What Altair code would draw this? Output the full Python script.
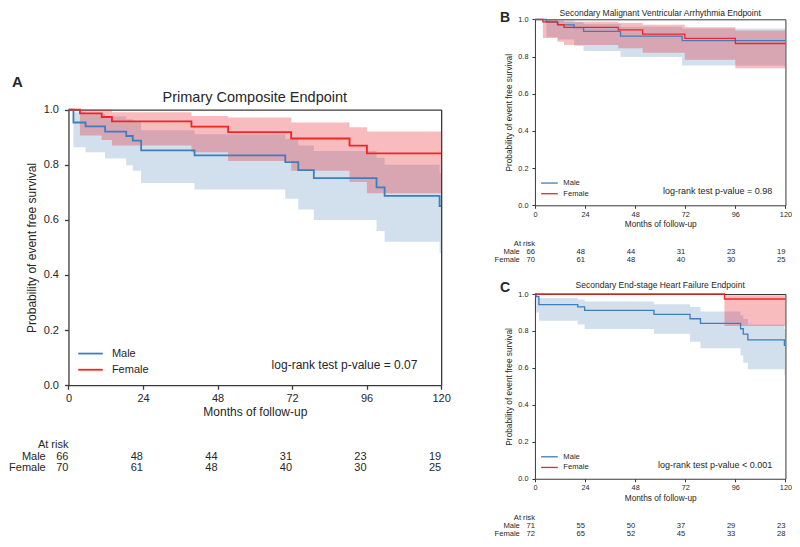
import altair as alt
import pandas as pd

# ---------------- data ----------------
months = [0, 24, 48, 72, 96, 120]
y_ticks = [0.0, 0.2, 0.4, 0.6, 0.8, 1.0]

# Panel A - Primary Composite Endpoint
A_male_t = [0, 1.6, 5.5, 11.8, 18.6, 20.7, 23.4, 40.6, 69.8, 74.0, 79.0, 99.2, 101.8, 119.5, 120]
A_male_s = [1.0, 0.953, 0.939, 0.920, 0.904, 0.887, 0.852, 0.834, 0.809, 0.780, 0.751, 0.718, 0.687, 0.650, 0.650]
A_male_lo = [1.0, 0.863, 0.845, 0.822, 0.798, 0.778, 0.734, 0.710, 0.676, 0.637, 0.599, 0.559, 0.520, 0.480, 0.480]
A_male_hi = [1.0, 0.990, 0.985, 0.975, 0.965, 0.955, 0.925, 0.910, 0.893, 0.870, 0.850, 0.825, 0.800, 0.770, 0.770]
A_fem_t = [0, 3.7, 10.7, 14.0, 39.6, 51.4, 71.7, 90.5, 96.1, 120]
A_fem_s = [1.0, 0.986, 0.973, 0.957, 0.938, 0.918, 0.895, 0.869, 0.841, 0.841]
A_fem_lo = [1.0, 0.906, 0.890, 0.870, 0.845, 0.813, 0.778, 0.737, 0.696, 0.696]
A_fem_hi = [1.0, 1.0, 1.0, 0.990, 0.977, 0.971, 0.953, 0.936, 0.920, 0.920]
A_risk_male = [66, 48, 44, 31, 23, 19]
A_risk_female = [70, 61, 48, 40, 30, 25]

# Panel B - Secondary Malignant Ventricular Arrhythmia Endpoint
B_male_t = [0, 5.5, 11.0, 18.8, 23.3, 41.0, 70.5, 120]
B_male_s = [1.0, 0.985, 0.970, 0.955, 0.935, 0.910, 0.885, 0.885]
B_male_lo = [1.0, 0.905, 0.891, 0.856, 0.830, 0.797, 0.752, 0.752]
B_male_hi = [1.0, 1.0, 0.993, 0.985, 0.975, 0.960, 0.950, 0.950]
B_fem_t = [0, 3.8, 10.8, 13.9, 39.9, 51.6, 71.8, 96.0, 120]
B_fem_s = [1.0, 0.986, 0.971, 0.957, 0.943, 0.920, 0.897, 0.870, 0.870]
B_fem_lo = [1.0, 0.900, 0.880, 0.862, 0.845, 0.820, 0.782, 0.737, 0.737]
B_fem_hi = [1.0, 0.998, 0.993, 0.987, 0.980, 0.971, 0.957, 0.940, 0.940]
B_risk_male = [66, 48, 44, 31, 23, 19]
B_risk_female = [70, 61, 48, 40, 30, 25]

# Panel C - Secondary End-stage Heart Failure Endpoint
C_male_t = [0, 0.6, 1.9, 20.5, 23.8, 57.0, 74.3, 79.3, 98.5, 99.8, 102.0, 119.5, 120]
C_male_s = [1.0, 0.986, 0.943, 0.930, 0.911, 0.890, 0.866, 0.841, 0.812, 0.783, 0.752, 0.722, 0.722]
C_male_lo = [1.0, 0.900, 0.855, 0.835, 0.810, 0.785, 0.742, 0.707, 0.667, 0.628, 0.593, 0.559, 0.559]
C_male_hi = [1.0, 0.998, 0.978, 0.970, 0.960, 0.945, 0.930, 0.905, 0.885, 0.865, 0.835, 0.810, 0.810]
C_fem_t = [0, 90.8, 120]
C_fem_s = [1.0, 0.973, 0.973]
C_fem_lo = [1.0, 0.827, 0.827]
C_fem_hi = [1.0, 0.993, 0.993]
C_risk_male = [71, 55, 50, 37, 29, 23]
C_risk_female = [72, 65, 52, 45, 33, 28]

# ---------------- layout helpers ----------------
W, H = 784, 531
SX, SY = 0.98, 531 / 549


def X(r):
    return r * SX


def Y(r):
    return r * SY


FONT = "Liberation Sans"
TXT = "#262626"
FRAME = "#3a3a3a"
BLUE = "#3d7ebf"
RED = "#f22424"
BAND_BLUE = "#4682b4"
BAND_RED = "#e8222a"

one = pd.DataFrame({"k": [0]})


def km_frame(t, s, lo, hi):
    return pd.DataFrame({"t": t, "s": s, "lo": lo, "hi": hi})


def label(text, x, y, size, align="left", weight="normal"):
    return alt.Chart(one).mark_text(
        text=text, align=align, baseline="middle", fontSize=size,
        font=FONT, color=TXT, fontWeight=weight,
    ).encode(x=alt.value(x), y=alt.value(y))


def legend_rule(color, x0, x1, y, sw):
    return alt.Chart(one).mark_rule(color=color, strokeWidth=sw).encode(
        x=alt.value(x0), x2=alt.value(x1), y=alt.value(y))


def panel(g, male, female, risk_m, risk_f, st):
    x0, x1, yb, yt = g["x0"], g["x1"], g["yb"], g["yt"]

    def xs():
        return alt.Scale(domain=[0, 120], range=[x0, x1], nice=False, zero=False)

    def ys():
        return alt.Scale(domain=[0, 1], range=[yb, yt], nice=False, zero=False)

    common = dict(domainColor=FRAME, domainWidth=st["dw"], tickColor=FRAME,
                  tickWidth=st["dw"], labelColor=TXT, titleColor=TXT,
                  labelFont=FONT, titleFont=FONT, grid=False,
                  titleFontWeight="normal")
    x_axis = alt.Axis(orient="bottom", offset=-(H - yb), values=months, format="d",
                      title="Months of follow-up", tickSize=st["ts"],
                      labelPadding=st["lp"], titlePadding=st["tpx"],
                      labelFontSize=st["tick"], titleFontSize=st["axt"],
                      labelFlush=False, **common)
    y_axis = alt.Axis(orient="left", offset=-x0, values=y_ticks, format=".1f",
                      title="Probability of event free survival", tickSize=st["ts"],
                      labelPadding=st["lpy"], titlePadding=st["tpy"],
                      labelFontSize=st["tick"], titleFontSize=st["axt"],
                      labelFlush=False, **common)
    top_axis = alt.Axis(orient="top", offset=-yt, labels=False, ticks=False,
                        domainColor=FRAME, domainWidth=st["dw"], grid=False)
    right_axis = alt.Axis(orient="right", offset=-(W - x1), labels=False, ticks=False,
                          domainColor=FRAME, domainWidth=st["dw"], grid=False)

    mdf = km_frame(*male)
    fdf = km_frame(*female)
    layers = []
    layers.append(alt.Chart(mdf).mark_area(interpolate="step-after", color=BAND_BLUE, opacity=0.25).encode(
        x=alt.X("t:Q", scale=xs(), axis=x_axis),
        y=alt.Y("lo:Q", scale=ys(), axis=y_axis),
        y2="hi:Q"))
    layers.append(alt.Chart(fdf).mark_area(interpolate="step-after", color=BAND_RED, opacity=0.3).encode(
        x=alt.X("t:Q", scale=xs(), axis=top_axis, title=None),
        y=alt.Y("lo:Q", scale=ys(), axis=right_axis, title=None),
        y2="hi:Q"))
    layers.append(alt.Chart(mdf).mark_line(interpolate="step-after", color=BLUE, strokeWidth=st["lw"]).encode(
        x=alt.X("t:Q", scale=xs(), axis=None),
        y=alt.Y("s:Q", scale=ys(), axis=None)))
    layers.append(alt.Chart(fdf).mark_line(interpolate="step-after", color=RED, strokeWidth=st["lw"]).encode(
        x=alt.X("t:Q", scale=xs(), axis=None),
        y=alt.Y("s:Q", scale=ys(), axis=None)))

    # number at risk tables
    for vals, yy in ((risk_m, g["r_male"]), (risk_f, g["r_fem"])):
        rdf = pd.DataFrame({"m": months, "n": vals})
        layers.append(alt.Chart(rdf).mark_text(
            align="right", baseline="middle", fontSize=st["risk"], font=FONT, color=TXT
        ).encode(x=alt.X("m:Q", scale=xs(), axis=None), y=alt.value(yy), text="n:Q"))
    layers.append(label("At risk", x0, g["r_head"], st["risk"], align="right"))
    layers.append(label("Male", g["r_lab"], g["r_male"], st["risk"], align="right"))
    layers.append(label("Female", g["r_lab"], g["r_fem"], st["risk"], align="right"))

    # legend inside the plot
    layers.append(legend_rule(BLUE, g["lg_x0"], g["lg_x1"], g["lg_m"], st["lw"]))
    layers.append(legend_rule(RED, g["lg_x0"], g["lg_x1"], g["lg_f"], st["lw"]))
    layers.append(label("Male", g["lg_tx"], g["lg_m"], st["leg"]))
    layers.append(label("Female", g["lg_tx"], g["lg_f"], st["leg"]))

    # p-value, title, panel letter
    layers.append(label(g["pval"], g["p_x"], g["p_y"], st["pv"]))
    layers.append(label(g["title"], (x0 + x1) / 2, g["t_y"], st["title"], align="center"))
    layers.append(label(g["letter"], g["l_x"], g["l_y"], st["letter"], weight="bold"))
    return layers


big = dict(dw=1.3, ts=4, lp=3, lpy=6, tpx=3, tpy=5, tick=11, axt=12, lw=1.8,
           risk=11, leg=11, pv=12, title=14.5, letter=15)
small = dict(dw=1.0, ts=3, lp=2, lpy=4, tpx=2, tpy=4, tick=7.3, axt=8.3, lw=1.3,
             risk=7.6, leg=7.6, pv=9, title=8.5, letter=14)

gA = dict(x0=X(61.7), x1=X(442), yb=Y(390), yt=Y(105),
          r_head=Y(451.7), r_male=Y(464), r_fem=Y(476), r_lab=X(38.5),
          lg_x0=X(71.7), lg_x1=X(96.7), lg_tx=X(106), lg_m=Y(357.3), lg_f=Y(374),
          pval="log-rank test p-value = 0.07", p_x=X(269), p_y=Y(369),
          title="Primary Composite Endpoint", t_y=Y(93),
          letter="A", l_x=X(4), l_y=Y(76))
gB = dict(x0=X(537.7), x1=X(793.3), yb=Y(204), yt=Y(11.7),
          r_head=Y(244.3), r_male=Y(252.3), r_fem=Y(260.7), r_lab=X(522.3),
          lg_x0=X(544), lg_x1=X(561), lg_tx=X(566.7), lg_m=Y(181), lg_f=Y(192),
          pval="log-rank test p-value = 0.98", p_x=X(668.3), p_y=Y(188.7),
          title="Secondary Malignant Ventricular Arrhythmia Endpoint", t_y=Y(5.5),
          letter="B", l_x=X(502), l_y=Y(10))
gC = dict(x0=X(537.7), x1=X(793.3), yb=Y(486.7), yt=Y(295.7),
          r_head=Y(527.3), r_male=Y(535.7), r_fem=Y(544), r_lab=X(522.3),
          lg_x0=X(544), lg_x1=X(561), lg_tx=X(566.7), lg_m=Y(464), lg_f=Y(475),
          pval="log-rank test p-value < 0.001", p_x=X(663.3), p_y=Y(472.3),
          title="Secondary End-stage Heart Failure Endpoint", t_y=Y(286.7),
          letter="C", l_x=X(502), l_y=Y(289))

layers = []
layers += panel(gA, (A_male_t, A_male_s, A_male_lo, A_male_hi),
                (A_fem_t, A_fem_s, A_fem_lo, A_fem_hi), A_risk_male, A_risk_female, big)
layers += panel(gB, (B_male_t, B_male_s, B_male_lo, B_male_hi),
                (B_fem_t, B_fem_s, B_fem_lo, B_fem_hi), B_risk_male, B_risk_female, small)
layers += panel(gC, (C_male_t, C_male_s, C_male_lo, C_male_hi),
                (C_fem_t, C_fem_s, C_fem_lo, C_fem_hi), C_risk_male, C_risk_female, small)

chart = alt.layer(*layers).resolve_scale(
    x="independent", y="independent"
).resolve_axis(
    x="independent", y="independent"
).properties(
    width=W, height=H, padding=0,
    autosize=alt.AutoSizeParams(type="none"),
).configure_view(stroke=None)

chart.save("out.html", embed_options={"renderer": "svg", "actions": False})
